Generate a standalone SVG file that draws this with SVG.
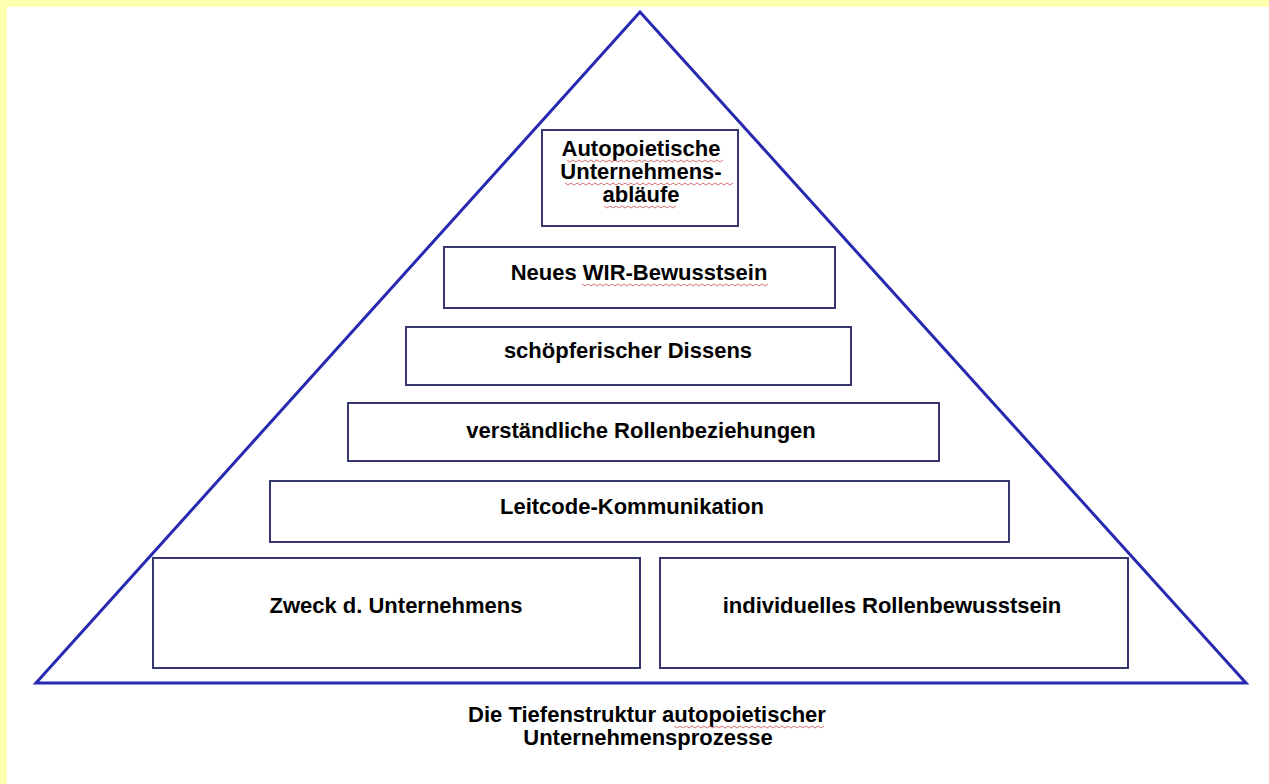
<svg xmlns="http://www.w3.org/2000/svg" width="1269" height="784" viewBox="0 0 1269 784">
<style>
.box{fill:#ffffff;stroke:#363670;stroke-width:2}
.lbl{font-family:"Liberation Sans",Arial,sans-serif;font-weight:bold;font-size:22px;fill:#000;text-anchor:middle}
.sq{fill:none;stroke:#d05050;stroke-width:1;opacity:0.8}
</style>
<rect x="0" y="0" width="1269" height="784" fill="#ffffff"/>
<rect x="0" y="0" width="1269" height="7" fill="#ffffb0"/>
<rect x="0" y="0" width="7" height="784" fill="#ffffb0"/>
<g id="pyramid">
<polygon points="640,12 36,683 1246,683" fill="#ffffff" stroke="#2828b0" stroke-width="3" stroke-linejoin="miter"/>
</g>
<g id="connectors"></g>
<g id="n1">
<rect class="box" x="542" y="130" width="196" height="96"/>
<text class="lbl" x="641" y="156">Autopoietische</text>
<text class="lbl" x="641" y="179">Unternehmens-</text>
<text class="lbl" x="641" y="202">abläufe</text>
<path class="sq" d="M567,160 l3,2 l3,-2 l3,2 l3,-2 l3,2 l3,-2 l3,2 l3,-2 l3,2 l3,-2 l3,2 l3,-2 l3,2 l3,-2 l3,2 l3,-2 l3,2 l3,-2 l3,2 l3,-2 l3,2 l3,-2 l3,2 l3,-2 l3,2 l3,-2 l3,2 l3,-2 l3,2 l3,-2 l3,2 l3,-2 l3,2 l3,-2 l3,2 l3,-2 l3,2 l3,-2 l3,2 l3,-2 l3,2 l3,-2 l3,2 l3,-2 l3,2 l3,-2 l3,2 l3,-2 l3,2 l3,-2 l3,2 l3,-2"/>
<path class="sq" d="M565,183 l3,2 l3,-2 l3,2 l3,-2 l3,2 l3,-2 l3,2 l3,-2 l3,2 l3,-2 l3,2 l3,-2 l3,2 l3,-2 l3,2 l3,-2 l3,2 l3,-2 l3,2 l3,-2 l3,2 l3,-2 l3,2 l3,-2 l3,2 l3,-2 l3,2 l3,-2 l3,2 l3,-2 l3,2 l3,-2 l3,2 l3,-2 l3,2 l3,-2 l3,2 l3,-2 l3,2 l3,-2 l3,2 l3,-2 l3,2 l3,-2 l3,2 l3,-2 l3,2 l3,-2 l3,2 l3,-2 l3,2 l3,-2 l3,2 l3,-2 l3,2 l3,-2"/>
<path class="sq" d="M604,206 l3,2 l3,-2 l3,2 l3,-2 l3,2 l3,-2 l3,2 l3,-2 l3,2 l3,-2 l3,2 l3,-2 l3,2 l3,-2 l3,2 l3,-2 l3,2 l3,-2 l3,2 l3,-2 l3,2 l3,-2 l3,2 l3,-2"/>
</g>
<g id="n2">
<rect class="box" x="444" y="247" width="391" height="61"/>
<text class="lbl" x="639" y="280">Neues WIR-Bewusstsein</text>
<path class="sq" d="M582,284 l3,2 l3,-2 l3,2 l3,-2 l3,2 l3,-2 l3,2 l3,-2 l3,2 l3,-2 l3,2 l3,-2 l3,2 l3,-2 l3,2 l3,-2 l3,2 l3,-2 l3,2 l3,-2 l3,2 l3,-2 l3,2 l3,-2 l3,2 l3,-2 l3,2 l3,-2 l3,2 l3,-2 l3,2 l3,-2 l3,2 l3,-2 l3,2 l3,-2 l3,2 l3,-2 l3,2 l3,-2 l3,2 l3,-2 l3,2 l3,-2 l3,2 l3,-2 l3,2 l3,-2 l3,2 l3,-2 l3,2 l3,-2 l3,2 l3,-2 l3,2 l3,-2 l3,2 l3,-2 l3,2 l3,-2 l3,2 l3,-2"/>
</g>
<g id="n3">
<rect class="box" x="406" y="327" width="445" height="58"/>
<text class="lbl" x="628" y="358">schöpferischer Dissens</text>
</g>
<g id="n4">
<rect class="box" x="348" y="403" width="591" height="58"/>
<text class="lbl" x="641" y="438">verständliche Rollenbeziehungen</text>
</g>
<g id="n5">
<rect class="box" x="270" y="481" width="739" height="61"/>
<text class="lbl" x="632" y="514">Leitcode-Kommunikation</text>
</g>
<g id="n6">
<rect class="box" x="153" y="558" width="487" height="110"/>
<text class="lbl" x="396" y="613">Zweck d. Unternehmens</text>
</g>
<g id="n7">
<rect class="box" x="660" y="558" width="468" height="110"/>
<text class="lbl" x="892" y="613">individuelles Rollenbewusstsein</text>
</g>
<g id="caption">
<text class="lbl" x="647" y="722">Die Tiefenstruktur autopoietischer</text>
<text class="lbl" x="648" y="745">Unternehmensprozesse</text>
<path class="sq" d="M674,726 l3,2 l3,-2 l3,2 l3,-2 l3,2 l3,-2 l3,2 l3,-2 l3,2 l3,-2 l3,2 l3,-2 l3,2 l3,-2 l3,2 l3,-2 l3,2 l3,-2 l3,2 l3,-2 l3,2 l3,-2 l3,2 l3,-2 l3,2 l3,-2 l3,2 l3,-2 l3,2 l3,-2 l3,2 l3,-2 l3,2 l3,-2 l3,2 l3,-2 l3,2 l3,-2 l3,2 l3,-2 l3,2 l3,-2 l3,2 l3,-2 l3,2 l3,-2 l3,2 l3,-2 l3,2 l3,-2"/>
</g>
</svg>
